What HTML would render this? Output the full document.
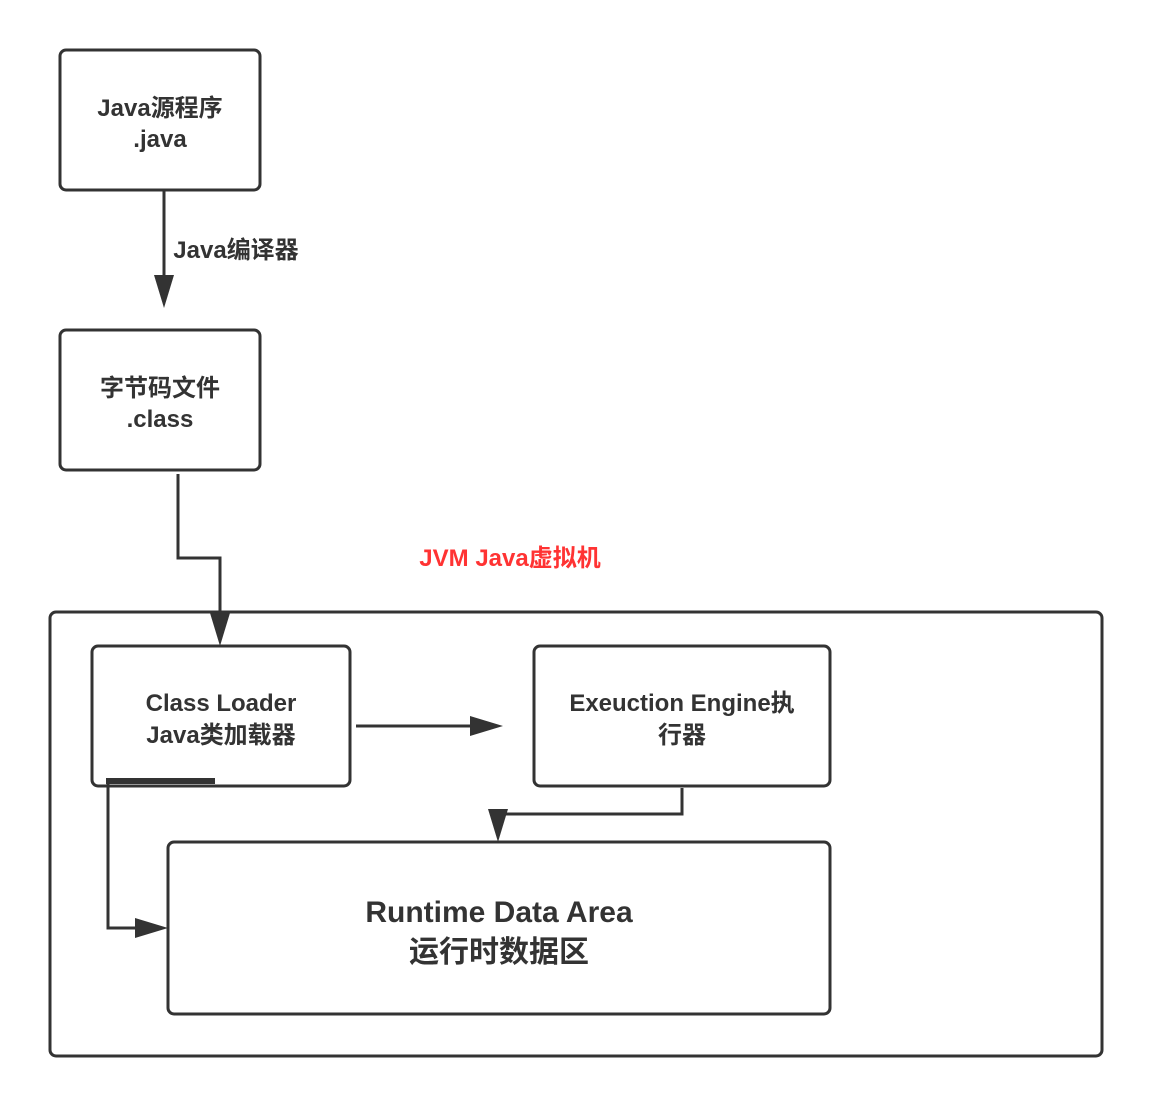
<!DOCTYPE html>
<html><head><meta charset="utf-8"><style>
body{margin:0;background:#fff;width:1152px;height:1106px;overflow:hidden}
svg{display:block}
text{font-family:"Liberation Sans","Noto Sans CJK SC",sans-serif;font-weight:bold;fill:#333;text-anchor:middle}
</style></head><body>
<svg width="1152" height="1106" viewBox="0 0 1152 1106">
<g fill="none" stroke="#333" stroke-width="3">
<rect x="60" y="50" width="200" height="140" rx="6"/>
<rect x="60" y="330" width="200" height="140" rx="6"/>
<rect x="50" y="612" width="1052" height="444" rx="6"/>
<rect x="92" y="646" width="258" height="140" rx="6"/>
<rect x="534" y="646" width="296" height="140" rx="6"/>
<rect x="168" y="842" width="662" height="172" rx="6"/>
<path d="M164 190 V285"/>
<path d="M178 474 V558 H220 V615"/>
<path d="M356 726 H472"/>
<path d="M682 788 V814 H498 V820"/>
<path d="M108 781 V928 H140"/>
</g>
<path d="M106 781 H215" stroke="#333" stroke-width="6"/>
<g fill="#333">
<polygon points="154,275 174,275 164,308"/>
<polygon points="210,613 230,613 220,646"/>
<polygon points="470,716 470,736 503,726"/>
<polygon points="488,809 508,809 498,842"/>
<polygon points="135,918 135,938 168,928"/>
</g>
<text x="160" y="116" font-size="24">Java源程序</text>
<text x="160" y="147" font-size="24">.java</text>
<text x="236" y="258" font-size="24">Java编译器</text>
<text x="160" y="396" font-size="24">字节码文件</text>
<text x="160" y="427" font-size="24">.class</text>
<text x="510" y="566" font-size="24" style="fill:#f33">JVM  Java虚拟机</text>
<text x="221" y="711" font-size="24">Class Loader</text>
<text x="221" y="743" font-size="24">Java类加载器</text>
<text x="682" y="711" font-size="24">Exeuction Engine执</text>
<text x="682" y="743" font-size="24">行器</text>
<text x="499" y="922" font-size="30">Runtime Data Area</text>
<text x="499" y="962" font-size="30">运行时数据区</text>
</svg>
</body></html>
